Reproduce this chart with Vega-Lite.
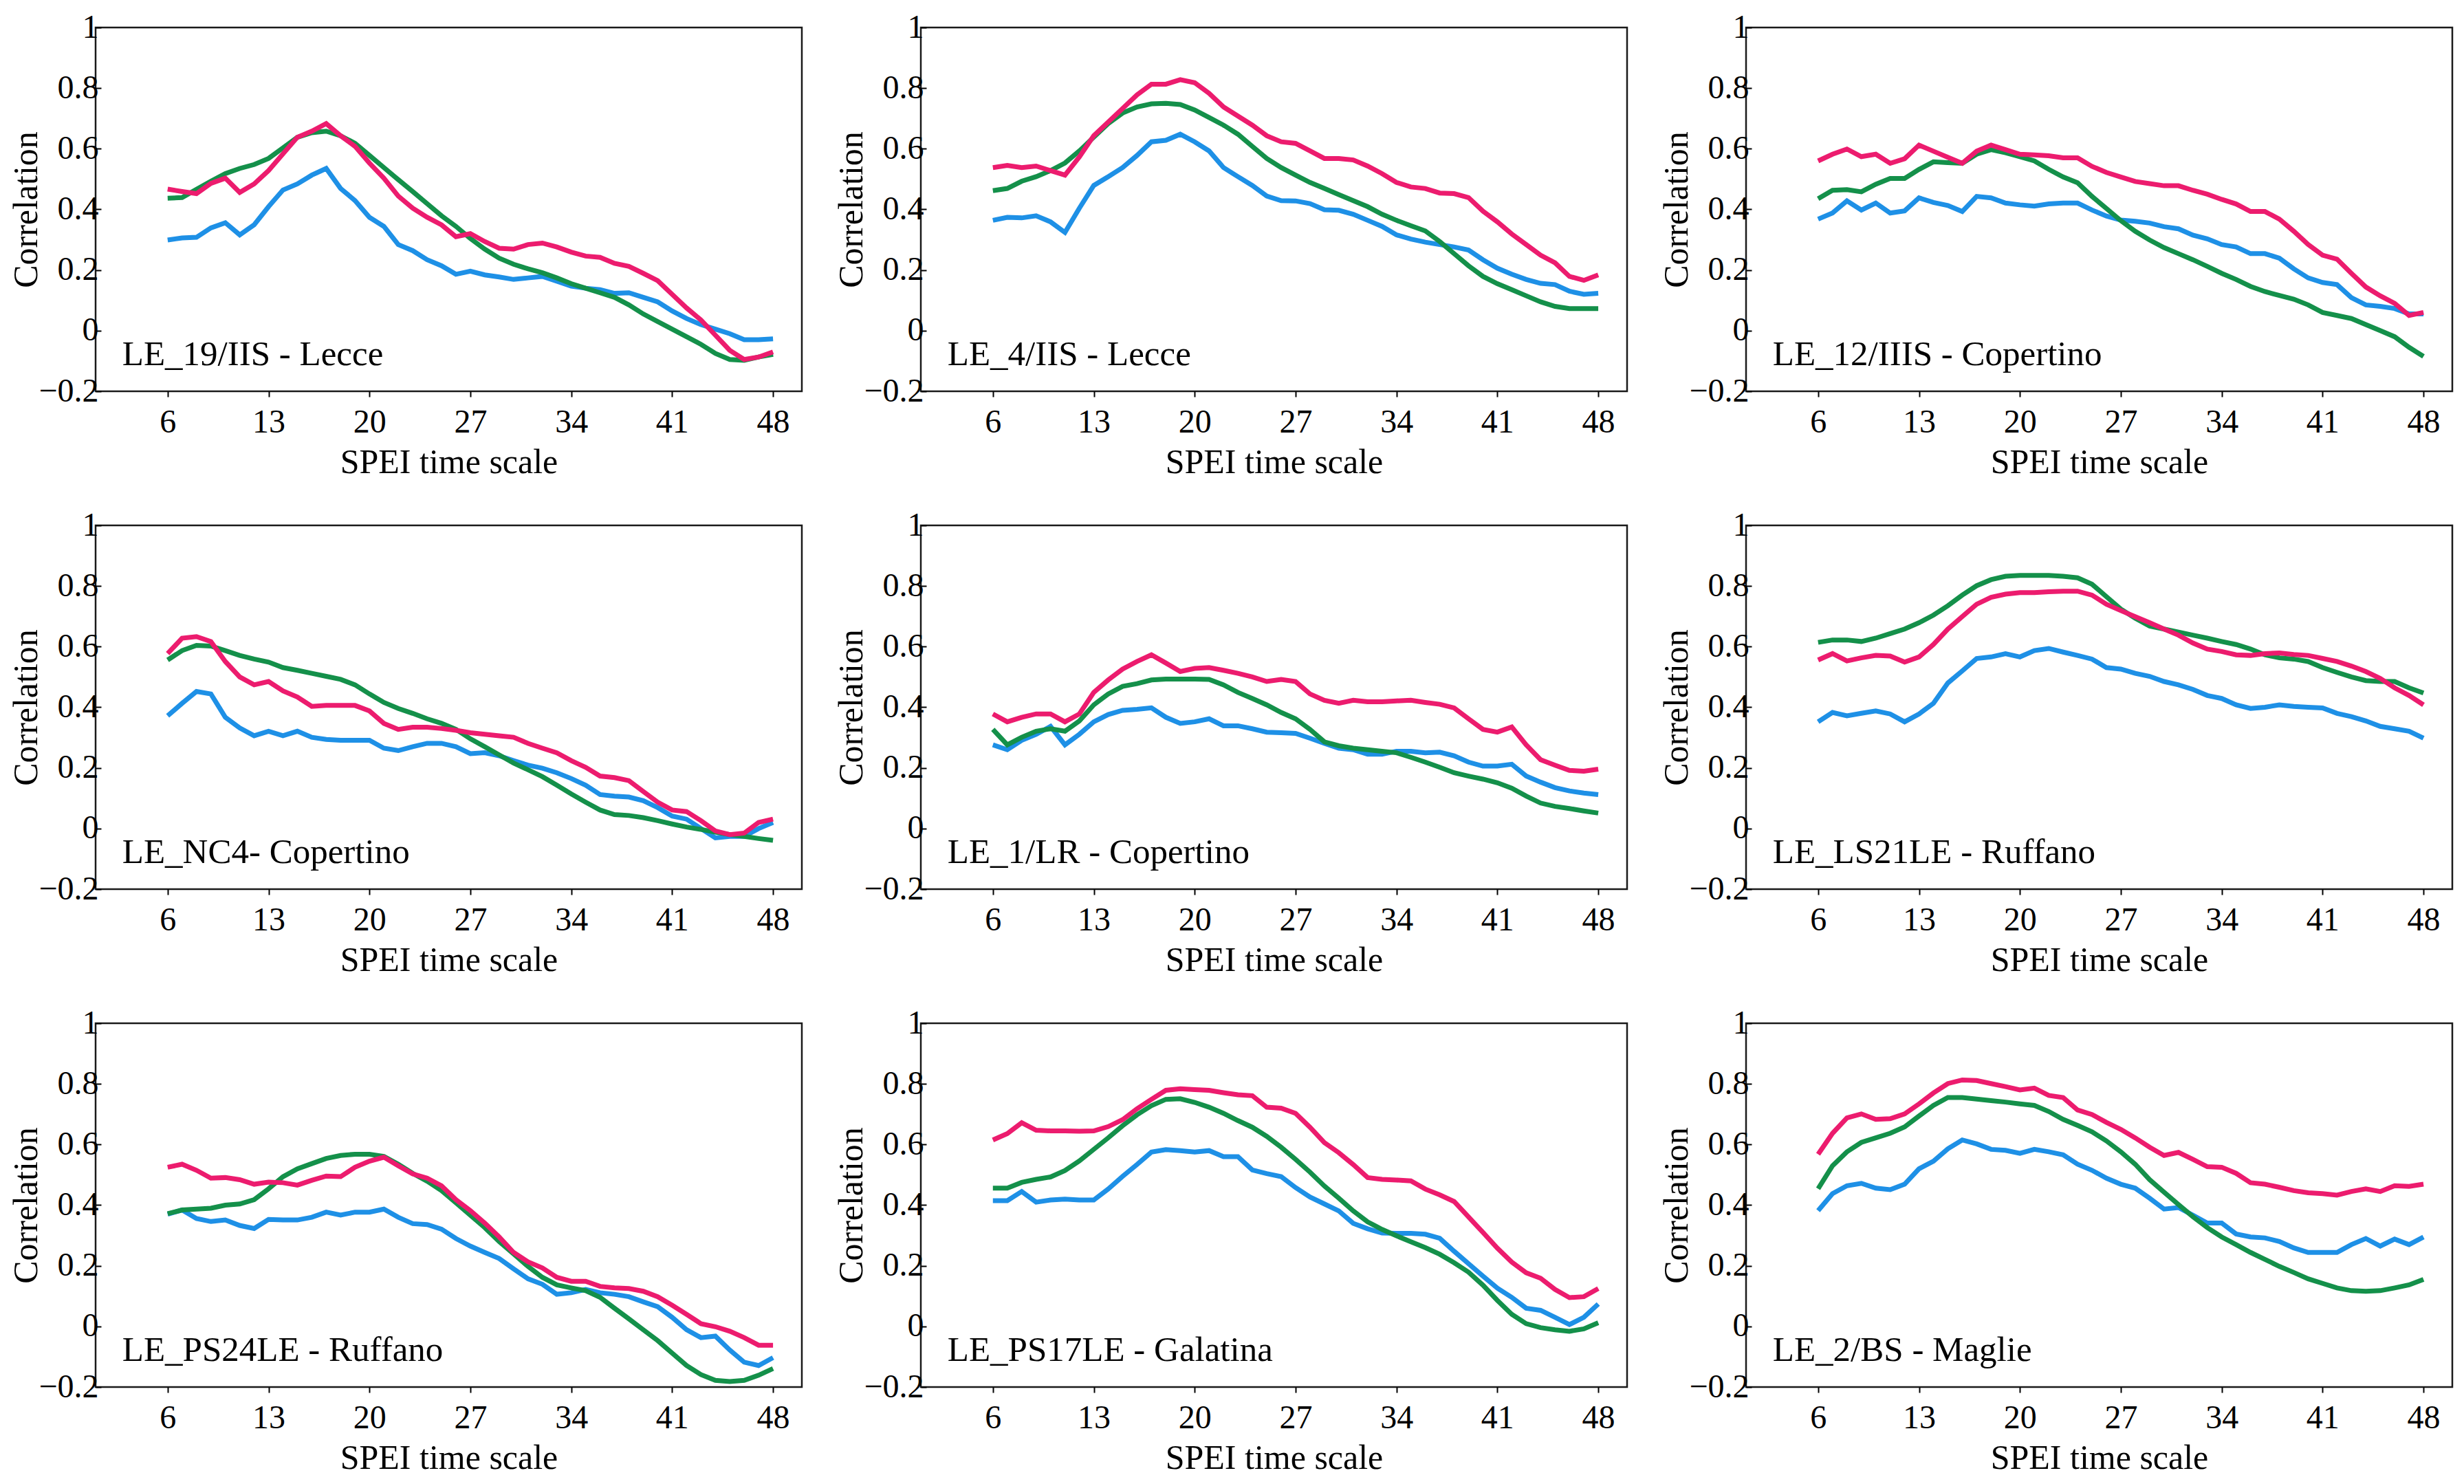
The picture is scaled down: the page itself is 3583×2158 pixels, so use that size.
{
"$schema": "https://vega.github.io/schema/vega-lite/v6.json",
"background": "white",
"padding": {"left": 12, "top": 14, "right": 5, "bottom": 5},
"bounds": "flush",
"spacing": {"row": 195, "column": 173},
"columns": 3,
"data": {"values": [
{"p":1,"t":6,"P":0.467,"G":0.437,"B":0.299},{"p":1,"t":7,"P":0.459,"G":0.439,"B":0.306},{"p":1,"t":8,"P":0.452,"G":0.466,"B":0.308},{"p":1,"t":9,"P":0.486,"G":0.493,"B":0.339},{"p":1,"t":10,"P":0.503,"G":0.518,"B":0.356},{"p":1,"t":11,"P":0.456,"G":0.535,"B":0.316},{"p":1,"t":12,"P":0.484,"G":0.548,"B":0.349},{"p":1,"t":13,"P":0.528,"G":0.568,"B":0.409},{"p":1,"t":14,"P":0.583,"G":0.603,"B":0.464},{"p":1,"t":15,"P":0.638,"G":0.638,"B":0.484},{"p":1,"t":16,"P":0.658,"G":0.653,"B":0.513},{"p":1,"t":17,"P":0.683,"G":0.658,"B":0.535},{"p":1,"t":18,"P":0.643,"G":0.643,"B":0.469},{"p":1,"t":19,"P":0.608,"G":0.618,"B":0.429},{"p":1,"t":20,"P":0.553,"G":0.578,"B":0.374},{"p":1,"t":21,"P":0.503,"G":0.538,"B":0.344},{"p":1,"t":22,"P":0.444,"G":0.498,"B":0.284},{"p":1,"t":23,"P":0.404,"G":0.459,"B":0.264},{"p":1,"t":24,"P":0.374,"G":0.419,"B":0.234},{"p":1,"t":25,"P":0.349,"G":0.379,"B":0.214},{"p":1,"t":26,"P":0.31,"G":0.344,"B":0.186},{"p":1,"t":27,"P":0.32,"G":0.304,"B":0.196},{"p":1,"t":28,"P":0.294,"G":0.269,"B":0.184},{"p":1,"t":29,"P":0.272,"G":0.239,"B":0.177},{"p":1,"t":30,"P":0.269,"G":0.219,"B":0.169},{"p":1,"t":31,"P":0.284,"G":0.204,"B":0.174},{"p":1,"t":32,"P":0.289,"G":0.191,"B":0.179},{"p":1,"t":33,"P":0.276,"G":0.174,"B":0.163},{"p":1,"t":34,"P":0.259,"G":0.155,"B":0.147},{"p":1,"t":35,"P":0.246,"G":0.14,"B":0.14},{"p":1,"t":36,"P":0.242,"G":0.125,"B":0.135},{"p":1,"t":37,"P":0.222,"G":0.11,"B":0.123},{"p":1,"t":38,"P":0.212,"G":0.085,"B":0.125},{"p":1,"t":39,"P":0.189,"G":0.055,"B":0.11},{"p":1,"t":40,"P":0.165,"G":0.03,"B":0.095},{"p":1,"t":41,"P":0.12,"G":0.005,"B":0.065},{"p":1,"t":42,"P":0.075,"G":-0.02,"B":0.04},{"p":1,"t":43,"P":0.035,"G":-0.045,"B":0.02},{"p":1,"t":44,"P":-0.015,"G":-0.075,"B":0.005},{"p":1,"t":45,"P":-0.065,"G":-0.095,"B":-0.01},{"p":1,"t":46,"P":-0.095,"G":-0.098,"B":-0.03},{"p":1,"t":47,"P":-0.087,"G":-0.087,"B":-0.03},{"p":1,"t":48,"P":-0.07,"G":-0.078,"B":-0.027},
{"p":2,"t":6,"P":0.538,"G":0.462,"B":0.364},{"p":2,"t":7,"P":0.545,"G":0.469,"B":0.374},{"p":2,"t":8,"P":0.538,"G":0.493,"B":0.372},{"p":2,"t":9,"P":0.543,"G":0.508,"B":0.379},{"p":2,"t":10,"P":0.528,"G":0.528,"B":0.359},{"p":2,"t":11,"P":0.513,"G":0.553,"B":0.324},{"p":2,"t":12,"P":0.573,"G":0.593,"B":0.404},{"p":2,"t":13,"P":0.643,"G":0.638,"B":0.479},{"p":2,"t":14,"P":0.688,"G":0.683,"B":0.508},{"p":2,"t":15,"P":0.733,"G":0.718,"B":0.538},{"p":2,"t":16,"P":0.778,"G":0.738,"B":0.578},{"p":2,"t":17,"P":0.813,"G":0.748,"B":0.623},{"p":2,"t":18,"P":0.813,"G":0.75,"B":0.628},{"p":2,"t":19,"P":0.828,"G":0.746,"B":0.648},{"p":2,"t":20,"P":0.818,"G":0.728,"B":0.623},{"p":2,"t":21,"P":0.783,"G":0.703,"B":0.593},{"p":2,"t":22,"P":0.738,"G":0.678,"B":0.538},{"p":2,"t":23,"P":0.708,"G":0.648,"B":0.508},{"p":2,"t":24,"P":0.678,"G":0.608,"B":0.479},{"p":2,"t":25,"P":0.643,"G":0.568,"B":0.444},{"p":2,"t":26,"P":0.623,"G":0.538,"B":0.429},{"p":2,"t":27,"P":0.618,"G":0.513,"B":0.428},{"p":2,"t":28,"P":0.593,"G":0.489,"B":0.419},{"p":2,"t":29,"P":0.568,"G":0.469,"B":0.399},{"p":2,"t":30,"P":0.568,"G":0.449,"B":0.397},{"p":2,"t":31,"P":0.563,"G":0.429,"B":0.384},{"p":2,"t":32,"P":0.543,"G":0.409,"B":0.364},{"p":2,"t":33,"P":0.518,"G":0.384,"B":0.344},{"p":2,"t":34,"P":0.489,"G":0.364,"B":0.316},{"p":2,"t":35,"P":0.474,"G":0.346,"B":0.302},{"p":2,"t":36,"P":0.469,"G":0.329,"B":0.292},{"p":2,"t":37,"P":0.454,"G":0.294,"B":0.284},{"p":2,"t":38,"P":0.452,"G":0.254,"B":0.276},{"p":2,"t":39,"P":0.439,"G":0.214,"B":0.266},{"p":2,"t":40,"P":0.394,"G":0.179,"B":0.234},{"p":2,"t":41,"P":0.359,"G":0.155,"B":0.206},{"p":2,"t":42,"P":0.319,"G":0.135,"B":0.186},{"p":2,"t":43,"P":0.284,"G":0.115,"B":0.169},{"p":2,"t":44,"P":0.249,"G":0.095,"B":0.156},{"p":2,"t":45,"P":0.224,"G":0.08,"B":0.152},{"p":2,"t":46,"P":0.179,"G":0.073,"B":0.13},{"p":2,"t":47,"P":0.166,"G":0.073,"B":0.12},{"p":2,"t":48,"P":0.184,"G":0.073,"B":0.123},
{"p":3,"t":6,"P":0.56,"G":0.435,"B":0.368},{"p":3,"t":7,"P":0.582,"G":0.463,"B":0.388},{"p":3,"t":8,"P":0.599,"G":0.465,"B":0.428},{"p":3,"t":9,"P":0.574,"G":0.458,"B":0.398},{"p":3,"t":10,"P":0.582,"G":0.483,"B":0.421},{"p":3,"t":11,"P":0.552,"G":0.502,"B":0.388},{"p":3,"t":12,"P":0.567,"G":0.502,"B":0.395},{"p":3,"t":13,"P":0.612,"G":0.532,"B":0.438},{"p":3,"t":14,"P":0.592,"G":0.557,"B":0.423},{"p":3,"t":15,"P":0.572,"G":0.554,"B":0.413},{"p":3,"t":16,"P":0.552,"G":0.552,"B":0.393},{"p":3,"t":17,"P":0.592,"G":0.582,"B":0.443},{"p":3,"t":18,"P":0.612,"G":0.597,"B":0.438},{"p":3,"t":19,"P":0.597,"G":0.587,"B":0.421},{"p":3,"t":20,"P":0.582,"G":0.574,"B":0.415},{"p":3,"t":21,"P":0.58,"G":0.56,"B":0.411},{"p":3,"t":22,"P":0.577,"G":0.532,"B":0.418},{"p":3,"t":23,"P":0.57,"G":0.507,"B":0.421},{"p":3,"t":24,"P":0.57,"G":0.488,"B":0.421},{"p":3,"t":25,"P":0.542,"G":0.443,"B":0.398},{"p":3,"t":26,"P":0.522,"G":0.403,"B":0.378},{"p":3,"t":27,"P":0.507,"G":0.363,"B":0.365},{"p":3,"t":28,"P":0.492,"G":0.328,"B":0.361},{"p":3,"t":29,"P":0.485,"G":0.299,"B":0.355},{"p":3,"t":30,"P":0.478,"G":0.274,"B":0.343},{"p":3,"t":31,"P":0.478,"G":0.254,"B":0.336},{"p":3,"t":32,"P":0.463,"G":0.234,"B":0.315},{"p":3,"t":33,"P":0.45,"G":0.212,"B":0.303},{"p":3,"t":34,"P":0.433,"G":0.189,"B":0.284},{"p":3,"t":35,"P":0.418,"G":0.169,"B":0.276},{"p":3,"t":36,"P":0.393,"G":0.146,"B":0.254},{"p":3,"t":37,"P":0.393,"G":0.129,"B":0.254},{"p":3,"t":38,"P":0.368,"G":0.116,"B":0.239},{"p":3,"t":39,"P":0.328,"G":0.104,"B":0.204},{"p":3,"t":40,"P":0.284,"G":0.085,"B":0.174},{"p":3,"t":41,"P":0.249,"G":0.06,"B":0.159},{"p":3,"t":42,"P":0.236,"G":0.05,"B":0.152},{"p":3,"t":43,"P":0.189,"G":0.04,"B":0.109},{"p":3,"t":44,"P":0.144,"G":0.02,"B":0.085},{"p":3,"t":45,"P":0.115,"G":0.0,"B":0.08},{"p":3,"t":46,"P":0.09,"G":-0.02,"B":0.073},{"p":3,"t":47,"P":0.05,"G":-0.055,"B":0.055},{"p":3,"t":48,"P":0.06,"G":-0.085,"B":0.055},
{"p":4,"t":6,"P":0.577,"G":0.556,"B":0.372},{"p":4,"t":7,"P":0.628,"G":0.587,"B":0.413},{"p":4,"t":8,"P":0.633,"G":0.604,"B":0.452},{"p":4,"t":9,"P":0.617,"G":0.602,"B":0.444},{"p":4,"t":10,"P":0.551,"G":0.587,"B":0.367},{"p":4,"t":11,"P":0.5,"G":0.571,"B":0.332},{"p":4,"t":12,"P":0.474,"G":0.559,"B":0.306},{"p":4,"t":13,"P":0.485,"G":0.549,"B":0.321},{"p":4,"t":14,"P":0.454,"G":0.531,"B":0.306},{"p":4,"t":15,"P":0.434,"G":0.522,"B":0.321},{"p":4,"t":16,"P":0.403,"G":0.512,"B":0.301},{"p":4,"t":17,"P":0.406,"G":0.502,"B":0.294},{"p":4,"t":18,"P":0.406,"G":0.492,"B":0.291},{"p":4,"t":19,"P":0.406,"G":0.474,"B":0.291},{"p":4,"t":20,"P":0.388,"G":0.444,"B":0.291},{"p":4,"t":21,"P":0.347,"G":0.416,"B":0.265},{"p":4,"t":22,"P":0.327,"G":0.396,"B":0.257},{"p":4,"t":23,"P":0.334,"G":0.38,"B":0.27},{"p":4,"t":24,"P":0.334,"G":0.362,"B":0.281},{"p":4,"t":25,"P":0.33,"G":0.347,"B":0.281},{"p":4,"t":26,"P":0.324,"G":0.327,"B":0.27},{"p":4,"t":27,"P":0.316,"G":0.296,"B":0.247},{"p":4,"t":28,"P":0.311,"G":0.27,"B":0.25},{"p":4,"t":29,"P":0.306,"G":0.243,"B":0.24},{"p":4,"t":30,"P":0.301,"G":0.216,"B":0.224},{"p":4,"t":31,"P":0.281,"G":0.194,"B":0.209},{"p":4,"t":32,"P":0.265,"G":0.171,"B":0.199},{"p":4,"t":33,"P":0.25,"G":0.143,"B":0.184},{"p":4,"t":34,"P":0.224,"G":0.114,"B":0.165},{"p":4,"t":35,"P":0.202,"G":0.087,"B":0.143},{"p":4,"t":36,"P":0.173,"G":0.061,"B":0.112},{"p":4,"t":37,"P":0.168,"G":0.046,"B":0.107},{"p":4,"t":38,"P":0.158,"G":0.043,"B":0.104},{"p":4,"t":39,"P":0.122,"G":0.036,"B":0.092},{"p":4,"t":40,"P":0.087,"G":0.026,"B":0.069},{"p":4,"t":41,"P":0.061,"G":0.015,"B":0.041},{"p":4,"t":42,"P":0.056,"G":0.005,"B":0.031},{"p":4,"t":43,"P":0.026,"G":-0.003,"B":0.0},{"p":4,"t":44,"P":-0.008,"G":-0.012,"B":-0.031},{"p":4,"t":45,"P":-0.02,"G":-0.02,"B":-0.026},{"p":4,"t":46,"P":-0.015,"G":-0.026,"B":-0.026},{"p":4,"t":47,"P":0.02,"G":-0.033,"B":0.0},{"p":4,"t":48,"P":0.031,"G":-0.039,"B":0.02},
{"p":5,"t":6,"P":0.378,"G":0.327,"B":0.276},{"p":5,"t":7,"P":0.352,"G":0.276,"B":0.26},{"p":5,"t":8,"P":0.367,"G":0.301,"B":0.291},{"p":5,"t":9,"P":0.378,"G":0.321,"B":0.311},{"p":5,"t":10,"P":0.378,"G":0.329,"B":0.337},{"p":5,"t":11,"P":0.352,"G":0.321,"B":0.276},{"p":5,"t":12,"P":0.378,"G":0.355,"B":0.311},{"p":5,"t":13,"P":0.449,"G":0.408,"B":0.352},{"p":5,"t":14,"P":0.49,"G":0.444,"B":0.376},{"p":5,"t":15,"P":0.526,"G":0.469,"B":0.39},{"p":5,"t":16,"P":0.551,"G":0.478,"B":0.393},{"p":5,"t":17,"P":0.573,"G":0.49,"B":0.398},{"p":5,"t":18,"P":0.546,"G":0.493,"B":0.367},{"p":5,"t":19,"P":0.518,"G":0.493,"B":0.347},{"p":5,"t":20,"P":0.528,"G":0.493,"B":0.352},{"p":5,"t":21,"P":0.531,"G":0.492,"B":0.362},{"p":5,"t":22,"P":0.522,"G":0.474,"B":0.339},{"p":5,"t":23,"P":0.512,"G":0.449,"B":0.339},{"p":5,"t":24,"P":0.5,"G":0.429,"B":0.329},{"p":5,"t":25,"P":0.485,"G":0.408,"B":0.318},{"p":5,"t":26,"P":0.492,"G":0.383,"B":0.316},{"p":5,"t":27,"P":0.485,"G":0.362,"B":0.314},{"p":5,"t":28,"P":0.444,"G":0.327,"B":0.298},{"p":5,"t":29,"P":0.423,"G":0.286,"B":0.281},{"p":5,"t":30,"P":0.413,"G":0.273,"B":0.265},{"p":5,"t":31,"P":0.423,"G":0.265,"B":0.26},{"p":5,"t":32,"P":0.418,"G":0.26,"B":0.245},{"p":5,"t":33,"P":0.418,"G":0.255,"B":0.245},{"p":5,"t":34,"P":0.421,"G":0.25,"B":0.255},{"p":5,"t":35,"P":0.423,"G":0.235,"B":0.255},{"p":5,"t":36,"P":0.416,"G":0.219,"B":0.25},{"p":5,"t":37,"P":0.41,"G":0.202,"B":0.252},{"p":5,"t":38,"P":0.398,"G":0.184,"B":0.24},{"p":5,"t":39,"P":0.362,"G":0.173,"B":0.219},{"p":5,"t":40,"P":0.327,"G":0.163,"B":0.206},{"p":5,"t":41,"P":0.318,"G":0.151,"B":0.206},{"p":5,"t":42,"P":0.335,"G":0.133,"B":0.212},{"p":5,"t":43,"P":0.276,"G":0.107,"B":0.173},{"p":5,"t":44,"P":0.227,"G":0.084,"B":0.153},{"p":5,"t":45,"P":0.209,"G":0.073,"B":0.135},{"p":5,"t":46,"P":0.192,"G":0.066,"B":0.124},{"p":5,"t":47,"P":0.189,"G":0.058,"B":0.117},{"p":5,"t":48,"P":0.196,"G":0.051,"B":0.112},
{"p":6,"t":6,"P":0.556,"G":0.614,"B":0.352},{"p":6,"t":7,"P":0.577,"G":0.622,"B":0.383},{"p":6,"t":8,"P":0.553,"G":0.622,"B":0.372},{"p":6,"t":9,"P":0.563,"G":0.617,"B":0.38},{"p":6,"t":10,"P":0.571,"G":0.628,"B":0.388},{"p":6,"t":11,"P":0.569,"G":0.643,"B":0.378},{"p":6,"t":12,"P":0.549,"G":0.658,"B":0.352},{"p":6,"t":13,"P":0.566,"G":0.679,"B":0.378},{"p":6,"t":14,"P":0.607,"G":0.704,"B":0.413},{"p":6,"t":15,"P":0.658,"G":0.735,"B":0.48},{"p":6,"t":16,"P":0.699,"G":0.77,"B":0.52},{"p":6,"t":17,"P":0.74,"G":0.801,"B":0.561},{"p":6,"t":18,"P":0.763,"G":0.821,"B":0.566},{"p":6,"t":19,"P":0.773,"G":0.832,"B":0.577},{"p":6,"t":20,"P":0.778,"G":0.835,"B":0.566},{"p":6,"t":21,"P":0.778,"G":0.835,"B":0.587},{"p":6,"t":22,"P":0.781,"G":0.835,"B":0.594},{"p":6,"t":23,"P":0.783,"G":0.832,"B":0.582},{"p":6,"t":24,"P":0.783,"G":0.827,"B":0.571},{"p":6,"t":25,"P":0.77,"G":0.806,"B":0.559},{"p":6,"t":26,"P":0.74,"G":0.765,"B":0.531},{"p":6,"t":27,"P":0.719,"G":0.724,"B":0.526},{"p":6,"t":28,"P":0.699,"G":0.694,"B":0.512},{"p":6,"t":29,"P":0.679,"G":0.668,"B":0.502},{"p":6,"t":30,"P":0.658,"G":0.658,"B":0.485},{"p":6,"t":31,"P":0.638,"G":0.648,"B":0.474},{"p":6,"t":32,"P":0.612,"G":0.638,"B":0.459},{"p":6,"t":33,"P":0.592,"G":0.628,"B":0.439},{"p":6,"t":34,"P":0.584,"G":0.617,"B":0.429},{"p":6,"t":35,"P":0.573,"G":0.607,"B":0.408},{"p":6,"t":36,"P":0.571,"G":0.592,"B":0.396},{"p":6,"t":37,"P":0.577,"G":0.573,"B":0.4},{"p":6,"t":38,"P":0.579,"G":0.563,"B":0.408},{"p":6,"t":39,"P":0.574,"G":0.559,"B":0.403},{"p":6,"t":40,"P":0.571,"G":0.551,"B":0.4},{"p":6,"t":41,"P":0.561,"G":0.531,"B":0.398},{"p":6,"t":42,"P":0.551,"G":0.515,"B":0.38},{"p":6,"t":43,"P":0.536,"G":0.5,"B":0.369},{"p":6,"t":44,"P":0.518,"G":0.488,"B":0.355},{"p":6,"t":45,"P":0.495,"G":0.485,"B":0.337},{"p":6,"t":46,"P":0.464,"G":0.485,"B":0.329},{"p":6,"t":47,"P":0.439,"G":0.464,"B":0.321},{"p":6,"t":48,"P":0.408,"G":0.447,"B":0.298},
{"p":7,"t":6,"P":0.525,"G":0.372,"B":0.37},{"p":7,"t":7,"P":0.535,"G":0.384,"B":0.384},{"p":7,"t":8,"P":0.515,"G":0.387,"B":0.356},{"p":7,"t":9,"P":0.489,"G":0.39,"B":0.346},{"p":7,"t":10,"P":0.491,"G":0.4,"B":0.351},{"p":7,"t":11,"P":0.484,"G":0.404,"B":0.333},{"p":7,"t":12,"P":0.469,"G":0.418,"B":0.323},{"p":7,"t":13,"P":0.476,"G":0.454,"B":0.353},{"p":7,"t":14,"P":0.474,"G":0.494,"B":0.351},{"p":7,"t":15,"P":0.466,"G":0.52,"B":0.351},{"p":7,"t":16,"P":0.482,"G":0.537,"B":0.36},{"p":7,"t":17,"P":0.496,"G":0.554,"B":0.377},{"p":7,"t":18,"P":0.494,"G":0.564,"B":0.367},{"p":7,"t":19,"P":0.525,"G":0.568,"B":0.377},{"p":7,"t":20,"P":0.545,"G":0.568,"B":0.377},{"p":7,"t":21,"P":0.558,"G":0.561,"B":0.387},{"p":7,"t":22,"P":0.53,"G":0.535,"B":0.36},{"p":7,"t":23,"P":0.503,"G":0.505,"B":0.339},{"p":7,"t":24,"P":0.489,"G":0.479,"B":0.336},{"p":7,"t":25,"P":0.464,"G":0.448,"B":0.321},{"p":7,"t":26,"P":0.418,"G":0.408,"B":0.29},{"p":7,"t":27,"P":0.382,"G":0.367,"B":0.265},{"p":7,"t":28,"P":0.341,"G":0.326,"B":0.244},{"p":7,"t":29,"P":0.295,"G":0.28,"B":0.224},{"p":7,"t":30,"P":0.244,"G":0.239,"B":0.19},{"p":7,"t":31,"P":0.213,"G":0.198,"B":0.157},{"p":7,"t":32,"P":0.193,"G":0.162,"B":0.139},{"p":7,"t":33,"P":0.162,"G":0.137,"B":0.106},{"p":7,"t":34,"P":0.149,"G":0.127,"B":0.111},{"p":7,"t":35,"P":0.149,"G":0.118,"B":0.122},{"p":7,"t":36,"P":0.132,"G":0.096,"B":0.111},{"p":7,"t":37,"P":0.127,"G":0.06,"B":0.106},{"p":7,"t":38,"P":0.125,"G":0.025,"B":0.098},{"p":7,"t":39,"P":0.116,"G":-0.011,"B":0.081},{"p":7,"t":40,"P":0.098,"G":-0.047,"B":0.065},{"p":7,"t":41,"P":0.07,"G":-0.088,"B":0.03},{"p":7,"t":42,"P":0.04,"G":-0.129,"B":-0.011},{"p":7,"t":43,"P":0.009,"G":-0.159,"B":-0.037},{"p":7,"t":44,"P":-0.001,"G":-0.178,"B":-0.032},{"p":7,"t":45,"P":-0.016,"G":-0.182,"B":-0.078},{"p":7,"t":46,"P":-0.037,"G":-0.178,"B":-0.118},{"p":7,"t":47,"P":-0.062,"G":-0.161,"B":-0.129},{"p":7,"t":48,"P":-0.062,"G":-0.139,"B":-0.103},
{"p":8,"t":6,"P":0.615,"G":0.456,"B":0.415},{"p":8,"t":7,"P":0.636,"G":0.456,"B":0.415},{"p":8,"t":8,"P":0.672,"G":0.475,"B":0.445},{"p":8,"t":9,"P":0.647,"G":0.485,"B":0.41},{"p":8,"t":10,"P":0.645,"G":0.493,"B":0.417},{"p":8,"t":11,"P":0.645,"G":0.514,"B":0.42},{"p":8,"t":12,"P":0.644,"G":0.546,"B":0.417},{"p":8,"t":13,"P":0.645,"G":0.584,"B":0.417},{"p":8,"t":14,"P":0.659,"G":0.622,"B":0.453},{"p":8,"t":15,"P":0.682,"G":0.662,"B":0.495},{"p":8,"t":16,"P":0.718,"G":0.698,"B":0.534},{"p":8,"t":17,"P":0.749,"G":0.728,"B":0.575},{"p":8,"t":18,"P":0.779,"G":0.749,"B":0.583},{"p":8,"t":19,"P":0.784,"G":0.751,"B":0.58},{"p":8,"t":20,"P":0.781,"G":0.739,"B":0.575},{"p":8,"t":21,"P":0.779,"G":0.723,"B":0.58},{"p":8,"t":22,"P":0.771,"G":0.703,"B":0.56},{"p":8,"t":23,"P":0.764,"G":0.679,"B":0.56},{"p":8,"t":24,"P":0.761,"G":0.657,"B":0.516},{"p":8,"t":25,"P":0.723,"G":0.627,"B":0.504},{"p":8,"t":26,"P":0.72,"G":0.591,"B":0.494},{"p":8,"t":27,"P":0.703,"G":0.551,"B":0.458},{"p":8,"t":28,"P":0.657,"G":0.509,"B":0.427},{"p":8,"t":29,"P":0.606,"G":0.463,"B":0.404},{"p":8,"t":30,"P":0.573,"G":0.423,"B":0.381},{"p":8,"t":31,"P":0.534,"G":0.381,"B":0.34},{"p":8,"t":32,"P":0.491,"G":0.345,"B":0.322},{"p":8,"t":33,"P":0.485,"G":0.32,"B":0.308},{"p":8,"t":34,"P":0.483,"G":0.299,"B":0.307},{"p":8,"t":35,"P":0.48,"G":0.279,"B":0.307},{"p":8,"t":36,"P":0.453,"G":0.26,"B":0.304},{"p":8,"t":37,"P":0.434,"G":0.238,"B":0.291},{"p":8,"t":38,"P":0.412,"G":0.21,"B":0.248},{"p":8,"t":39,"P":0.361,"G":0.179,"B":0.207},{"p":8,"t":40,"P":0.31,"G":0.136,"B":0.166},{"p":8,"t":41,"P":0.258,"G":0.086,"B":0.126},{"p":8,"t":42,"P":0.212,"G":0.04,"B":0.096},{"p":8,"t":43,"P":0.177,"G":0.009,"B":0.06},{"p":8,"t":44,"P":0.159,"G":-0.004,"B":0.053},{"p":8,"t":45,"P":0.122,"G":-0.011,"B":0.03},{"p":8,"t":46,"P":0.095,"G":-0.016,"B":0.006},{"p":8,"t":47,"P":0.098,"G":-0.008,"B":0.03},{"p":8,"t":48,"P":0.125,"G":0.012,"B":0.074},
{"p":9,"t":6,"P":0.568,"G":0.454,"B":0.382},{"p":9,"t":7,"P":0.637,"G":0.53,"B":0.438},{"p":9,"t":8,"P":0.688,"G":0.576,"B":0.464},{"p":9,"t":9,"P":0.701,"G":0.607,"B":0.472},{"p":9,"t":10,"P":0.683,"G":0.622,"B":0.456},{"p":9,"t":11,"P":0.685,"G":0.637,"B":0.451},{"p":9,"t":12,"P":0.701,"G":0.658,"B":0.469},{"p":9,"t":13,"P":0.734,"G":0.694,"B":0.52},{"p":9,"t":14,"P":0.77,"G":0.729,"B":0.545},{"p":9,"t":15,"P":0.801,"G":0.755,"B":0.586},{"p":9,"t":16,"P":0.813,"G":0.755,"B":0.615},{"p":9,"t":17,"P":0.811,"G":0.75,"B":0.602},{"p":9,"t":18,"P":0.801,"G":0.745,"B":0.584},{"p":9,"t":19,"P":0.791,"G":0.74,"B":0.581},{"p":9,"t":20,"P":0.78,"G":0.734,"B":0.571},{"p":9,"t":21,"P":0.786,"G":0.729,"B":0.584},{"p":9,"t":22,"P":0.762,"G":0.709,"B":0.576},{"p":9,"t":23,"P":0.755,"G":0.683,"B":0.566},{"p":9,"t":24,"P":0.714,"G":0.663,"B":0.535},{"p":9,"t":25,"P":0.699,"G":0.642,"B":0.515},{"p":9,"t":26,"P":0.673,"G":0.612,"B":0.489},{"p":9,"t":27,"P":0.65,"G":0.576,"B":0.469},{"p":9,"t":28,"P":0.622,"G":0.535,"B":0.456},{"p":9,"t":29,"P":0.591,"G":0.484,"B":0.423},{"p":9,"t":30,"P":0.564,"G":0.443,"B":0.387},{"p":9,"t":31,"P":0.574,"G":0.402,"B":0.392},{"p":9,"t":32,"P":0.551,"G":0.362,"B":0.367},{"p":9,"t":33,"P":0.527,"G":0.326,"B":0.341},{"p":9,"t":34,"P":0.525,"G":0.295,"B":0.341},{"p":9,"t":35,"P":0.505,"G":0.27,"B":0.305},{"p":9,"t":36,"P":0.474,"G":0.244,"B":0.295},{"p":9,"t":37,"P":0.469,"G":0.221,"B":0.292},{"p":9,"t":38,"P":0.459,"G":0.198,"B":0.28},{"p":9,"t":39,"P":0.448,"G":0.178,"B":0.259},{"p":9,"t":40,"P":0.441,"G":0.157,"B":0.244},{"p":9,"t":41,"P":0.438,"G":0.142,"B":0.244},{"p":9,"t":42,"P":0.433,"G":0.127,"B":0.244},{"p":9,"t":43,"P":0.445,"G":0.118,"B":0.27},{"p":9,"t":44,"P":0.454,"G":0.116,"B":0.29},{"p":9,"t":45,"P":0.445,"G":0.118,"B":0.265},{"p":9,"t":46,"P":0.464,"G":0.127,"B":0.288},{"p":9,"t":47,"P":0.462,"G":0.137,"B":0.27},{"p":9,"t":48,"P":0.469,"G":0.155,"B":0.295}
]},
"transform": [
  {"lookup": "p", "from": {"data": {"values": [
    {"p":1,"name":"LE_19/IIS - Lecce"},{"p":2,"name":"LE_4/IIS - Lecce"},{"p":3,"name":"LE_12/IIIS - Copertino"},
    {"p":4,"name":"LE_NC4- Copertino"},{"p":5,"name":"LE_1/LR - Copertino"},{"p":6,"name":"LE_LS21LE - Ruffano"},
    {"p":7,"name":"LE_PS24LE - Ruffano"},{"p":8,"name":"LE_PS17LE - Galatina"},{"p":9,"name":"LE_2/BS - Maglie"}]}, "key": "p", "fields": ["name"]}},
  {"fold": ["B", "G", "P"], "as": ["k", "r"]}
],
"facet": {"field": "p", "type": "ordinal", "sort": "ascending", "header": {"labels": false, "title": null, "labelExpr": "''", "labelFontSize": 0, "labelPadding": 0, "titlePadding": 0}},
"resolve": {"axis": {"x": "independent", "y": "independent"}},
"spec": {
  "width": 1027,
  "height": 529,
  "layer": [
    {
      "mark": {"type": "line", "strokeWidth": 7, "clip": true},
      "encoding": {
        "x": {"field": "t", "type": "quantitative", "scale": {"domain": [1, 50], "nice": false, "zero": false},
              "axis": {"title": "SPEI time scale", "values": [6, 13, 20, 27, 34, 41, 48], "grid": false, "domain": false, "ticks": true, "tickSize": 8, "tickWidth": 2, "tickColor": "black", "labelPadding": 13, "titlePadding": 9}},
        "y": {"field": "r", "type": "quantitative", "scale": {"domain": [-0.2, 1], "nice": false, "zero": false},
              "axis": {"title": "Correlation", "values": [-0.2, 0, 0.2, 0.4, 0.6, 0.8, 1], "format": ".1~f", "grid": false, "domain": false, "ticks": true, "tickSize": -8, "tickWidth": 2, "tickColor": "black", "labelPadding": 4, "titlePadding": -8}},
        "color": {"field": "k", "type": "nominal", "scale": {"domain": ["P", "G", "B"], "range": ["#EC1C6E", "#14904A", "#1E90E6"]}, "legend": null}
      }
    },
    {
      "transform": [{"filter": "datum.t == 6 && datum.k == 'P'"}],
      "mark": {"type": "text", "align": "left", "baseline": "alphabetic", "fontSize": 51, "font": "Liberation Serif", "color": "black"},
      "encoding": {
        "x": {"datum": 2.85, "type": "quantitative"},
        "y": {"datum": -0.113, "type": "quantitative"},
        "text": {"field": "name"}
      }
    }
  ]
},
"config": {
  "font": "Liberation Serif",
  "view": {"stroke": "#1a1a1a", "strokeWidth": 2.5},
  "axis": {"labelFont": "Liberation Serif", "titleFont": "Liberation Serif", "labelFontSize": 48, "titleFontSize": 50, "titleFontWeight": "normal", "labelColor": "black", "titleColor": "black"}
}
}
